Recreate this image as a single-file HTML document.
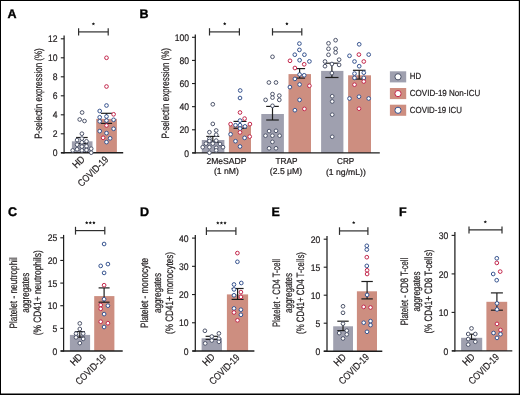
<!DOCTYPE html>
<html><head><meta charset="utf-8"><style>
html,body{margin:0;padding:0;background:#fff;}
svg{display:block;font-family:"Liberation Sans", sans-serif;will-change:transform;text-rendering:geometricPrecision;}
</style></head><body>
<svg width="520" height="395" viewBox="0 0 520 395">
<rect x="0.00" y="0.00" width="520.00" height="395.00" fill="#ffffff"/>
<text x="7.60" y="18.00" font-size="12.5" text-anchor="start" font-weight="bold" fill="#000" stroke="#000" stroke-width="0.35">A</text>
<line x1="64.10" y1="35.60" x2="64.10" y2="153.40" stroke="#1e1e1e" stroke-width="1.25"/>
<line x1="60.80" y1="152.80" x2="64.10" y2="152.80" stroke="#1e1e1e" stroke-width="1.1"/>
<text x="57.60" y="156.40" font-size="9.6" text-anchor="end" font-weight="normal" fill="#231f20" textLength="4.78" lengthAdjust="spacingAndGlyphs" stroke="#231f20" stroke-width="0.22">0</text>
<line x1="60.80" y1="133.80" x2="64.10" y2="133.80" stroke="#1e1e1e" stroke-width="1.1"/>
<text x="57.60" y="137.40" font-size="9.6" text-anchor="end" font-weight="normal" fill="#231f20" textLength="4.78" lengthAdjust="spacingAndGlyphs" stroke="#231f20" stroke-width="0.22">2</text>
<line x1="60.80" y1="114.80" x2="64.10" y2="114.80" stroke="#1e1e1e" stroke-width="1.1"/>
<text x="57.60" y="118.40" font-size="9.6" text-anchor="end" font-weight="normal" fill="#231f20" textLength="4.78" lengthAdjust="spacingAndGlyphs" stroke="#231f20" stroke-width="0.22">4</text>
<line x1="60.80" y1="95.80" x2="64.10" y2="95.80" stroke="#1e1e1e" stroke-width="1.1"/>
<text x="57.60" y="99.40" font-size="9.6" text-anchor="end" font-weight="normal" fill="#231f20" textLength="4.78" lengthAdjust="spacingAndGlyphs" stroke="#231f20" stroke-width="0.22">6</text>
<line x1="60.80" y1="76.80" x2="64.10" y2="76.80" stroke="#1e1e1e" stroke-width="1.1"/>
<text x="57.60" y="80.40" font-size="9.6" text-anchor="end" font-weight="normal" fill="#231f20" textLength="4.78" lengthAdjust="spacingAndGlyphs" stroke="#231f20" stroke-width="0.22">8</text>
<line x1="60.80" y1="57.80" x2="64.10" y2="57.80" stroke="#1e1e1e" stroke-width="1.1"/>
<text x="57.60" y="61.40" font-size="9.6" text-anchor="end" font-weight="normal" fill="#231f20" textLength="9.56" lengthAdjust="spacingAndGlyphs" stroke="#231f20" stroke-width="0.22">10</text>
<line x1="60.80" y1="38.80" x2="64.10" y2="38.80" stroke="#1e1e1e" stroke-width="1.1"/>
<text x="57.60" y="42.40" font-size="9.6" text-anchor="end" font-weight="normal" fill="#231f20" textLength="9.56" lengthAdjust="spacingAndGlyphs" stroke="#231f20" stroke-width="0.22">12</text>
<rect x="71.90" y="141.30" width="20.60" height="11.50" fill="#9fa0af"/>
<rect x="96.20" y="118.90" width="20.70" height="33.90" fill="#cd8e80"/>
<line x1="81.90" y1="137.50" x2="81.90" y2="143.60" stroke="#1e1e1e" stroke-width="1.2"/>
<line x1="76.10" y1="137.50" x2="87.70" y2="137.50" stroke="#1e1e1e" stroke-width="1.2"/>
<line x1="76.10" y1="143.60" x2="87.70" y2="143.60" stroke="#1e1e1e" stroke-width="1.2"/>
<line x1="106.50" y1="113.30" x2="106.50" y2="123.40" stroke="#1e1e1e" stroke-width="1.2"/>
<line x1="100.90" y1="113.30" x2="112.10" y2="113.30" stroke="#1e1e1e" stroke-width="1.2"/>
<line x1="100.90" y1="123.40" x2="112.10" y2="123.40" stroke="#1e1e1e" stroke-width="1.2"/>
<line x1="61.00" y1="152.80" x2="123.20" y2="152.80" stroke="#1e1e1e" stroke-width="1.4"/>
<circle cx="82.10" cy="112.50" r="1.85" fill="#fff" stroke="#4d546a" stroke-width="1.0"/>
<circle cx="79.70" cy="119.50" r="1.85" fill="#fff" stroke="#4d546a" stroke-width="1.0"/>
<circle cx="84.50" cy="121.00" r="1.85" fill="#fff" stroke="#4d546a" stroke-width="1.0"/>
<circle cx="81.90" cy="133.70" r="1.85" fill="#fff" stroke="#4d546a" stroke-width="1.0"/>
<circle cx="77.10" cy="140.10" r="1.85" fill="#fff" stroke="#4d546a" stroke-width="1.0"/>
<circle cx="81.90" cy="138.60" r="1.85" fill="#fff" stroke="#4d546a" stroke-width="1.0"/>
<circle cx="86.50" cy="141.30" r="1.85" fill="#fff" stroke="#4d546a" stroke-width="1.0"/>
<circle cx="81.90" cy="142.30" r="1.85" fill="#fff" stroke="#4d546a" stroke-width="1.0"/>
<circle cx="77.10" cy="144.70" r="1.85" fill="#fff" stroke="#4d546a" stroke-width="1.0"/>
<circle cx="81.90" cy="146.60" r="1.85" fill="#fff" stroke="#4d546a" stroke-width="1.0"/>
<circle cx="86.50" cy="146.20" r="1.85" fill="#fff" stroke="#4d546a" stroke-width="1.0"/>
<circle cx="72.70" cy="150.40" r="1.85" fill="#fff" stroke="#4d546a" stroke-width="1.0"/>
<circle cx="77.10" cy="149.30" r="1.85" fill="#fff" stroke="#4d546a" stroke-width="1.0"/>
<circle cx="81.90" cy="150.40" r="1.85" fill="#fff" stroke="#4d546a" stroke-width="1.0"/>
<circle cx="86.50" cy="150.00" r="1.85" fill="#fff" stroke="#4d546a" stroke-width="1.0"/>
<circle cx="91.20" cy="148.70" r="1.85" fill="#fff" stroke="#4d546a" stroke-width="1.0"/>
<circle cx="91.20" cy="152.70" r="1.85" fill="#fff" stroke="#4d546a" stroke-width="1.0"/>
<circle cx="106.50" cy="57.80" r="1.85" fill="#fff" stroke="#c3264b" stroke-width="1.0"/>
<circle cx="106.50" cy="86.50" r="1.85" fill="#fff" stroke="#c3264b" stroke-width="1.0"/>
<circle cx="106.50" cy="105.50" r="1.85" fill="#fff" stroke="#36538f" stroke-width="1.0"/>
<circle cx="99.70" cy="111.00" r="1.85" fill="#fff" stroke="#36538f" stroke-width="1.0"/>
<circle cx="113.60" cy="114.30" r="1.85" fill="#fff" stroke="#c3264b" stroke-width="1.0"/>
<circle cx="99.70" cy="117.30" r="1.85" fill="#fff" stroke="#36538f" stroke-width="1.0"/>
<circle cx="106.50" cy="116.50" r="1.85" fill="#fff" stroke="#36538f" stroke-width="1.0"/>
<circle cx="99.70" cy="121.30" r="1.85" fill="#fff" stroke="#36538f" stroke-width="1.0"/>
<circle cx="106.50" cy="120.60" r="1.85" fill="#fff" stroke="#36538f" stroke-width="1.0"/>
<circle cx="113.60" cy="119.80" r="1.85" fill="#fff" stroke="#36538f" stroke-width="1.0"/>
<circle cx="106.50" cy="125.50" r="1.85" fill="#fff" stroke="#c3264b" stroke-width="1.0"/>
<circle cx="113.60" cy="128.80" r="1.85" fill="#fff" stroke="#36538f" stroke-width="1.0"/>
<circle cx="99.70" cy="131.10" r="1.85" fill="#fff" stroke="#36538f" stroke-width="1.0"/>
<circle cx="106.50" cy="133.10" r="1.85" fill="#fff" stroke="#36538f" stroke-width="1.0"/>
<circle cx="103.10" cy="137.80" r="1.85" fill="#fff" stroke="#c3264b" stroke-width="1.0"/>
<circle cx="110.10" cy="138.30" r="1.85" fill="#fff" stroke="#36538f" stroke-width="1.0"/>
<circle cx="106.50" cy="142.10" r="1.85" fill="#fff" stroke="#36538f" stroke-width="1.0"/>
<line x1="78.60" y1="31.90" x2="108.20" y2="31.90" stroke="#2e2e2e" stroke-width="1.2"/>
<line x1="78.60" y1="28.30" x2="78.60" y2="35.60" stroke="#2e2e2e" stroke-width="1.2"/>
<line x1="108.20" y1="28.30" x2="108.20" y2="35.60" stroke="#2e2e2e" stroke-width="1.2"/>
<polygon points="93.40,22.15 93.90,23.21 95.06,23.36 94.21,24.16 94.43,25.32 93.40,24.75 92.37,25.32 92.59,24.16 91.74,23.36 92.90,23.21" fill="#1a1a1a"/>
<text transform="translate(42.30,93.50) rotate(-90)" x="0" y="0" font-size="10.7" text-anchor="middle" font-weight="normal" fill="#231f20" textLength="90.50" lengthAdjust="spacingAndGlyphs" stroke="#231f20" stroke-width="0.22">P-selectin expression (%)</text>
<text transform="translate(85.40,160.00) rotate(-45)" x="0" y="0" font-size="10" text-anchor="end" font-weight="normal" fill="#231f20" textLength="12.50" lengthAdjust="spacingAndGlyphs" stroke="#231f20" stroke-width="0.22">HD</text>
<text transform="translate(109.00,160.10) rotate(-45)" x="0" y="0" font-size="10" text-anchor="end" font-weight="normal" fill="#231f20" textLength="38.50" lengthAdjust="spacingAndGlyphs" stroke="#231f20" stroke-width="0.22">COVID-19</text>
<text x="139.60" y="18.20" font-size="12.5" text-anchor="start" font-weight="bold" fill="#000" stroke="#000" stroke-width="0.35">B</text>
<line x1="195.30" y1="34.50" x2="195.30" y2="153.50" stroke="#1e1e1e" stroke-width="1.25"/>
<line x1="192.00" y1="152.90" x2="195.30" y2="152.90" stroke="#1e1e1e" stroke-width="1.1"/>
<text x="189.00" y="156.50" font-size="9.6" text-anchor="end" font-weight="normal" fill="#231f20" textLength="4.78" lengthAdjust="spacingAndGlyphs" stroke="#231f20" stroke-width="0.22">0</text>
<line x1="192.00" y1="129.78" x2="195.30" y2="129.78" stroke="#1e1e1e" stroke-width="1.1"/>
<text x="189.00" y="133.38" font-size="9.6" text-anchor="end" font-weight="normal" fill="#231f20" textLength="9.56" lengthAdjust="spacingAndGlyphs" stroke="#231f20" stroke-width="0.22">20</text>
<line x1="192.00" y1="106.66" x2="195.30" y2="106.66" stroke="#1e1e1e" stroke-width="1.1"/>
<text x="189.00" y="110.26" font-size="9.6" text-anchor="end" font-weight="normal" fill="#231f20" textLength="9.56" lengthAdjust="spacingAndGlyphs" stroke="#231f20" stroke-width="0.22">40</text>
<line x1="192.00" y1="83.54" x2="195.30" y2="83.54" stroke="#1e1e1e" stroke-width="1.1"/>
<text x="189.00" y="87.14" font-size="9.6" text-anchor="end" font-weight="normal" fill="#231f20" textLength="9.56" lengthAdjust="spacingAndGlyphs" stroke="#231f20" stroke-width="0.22">60</text>
<line x1="192.00" y1="60.42" x2="195.30" y2="60.42" stroke="#1e1e1e" stroke-width="1.1"/>
<text x="189.00" y="64.02" font-size="9.6" text-anchor="end" font-weight="normal" fill="#231f20" textLength="9.56" lengthAdjust="spacingAndGlyphs" stroke="#231f20" stroke-width="0.22">80</text>
<line x1="192.00" y1="37.30" x2="195.30" y2="37.30" stroke="#1e1e1e" stroke-width="1.1"/>
<text x="189.00" y="40.90" font-size="9.6" text-anchor="end" font-weight="normal" fill="#231f20" textLength="14.35" lengthAdjust="spacingAndGlyphs" stroke="#231f20" stroke-width="0.22">100</text>
<rect x="201.80" y="140.00" width="22.60" height="12.90" fill="#9fa0af"/>
<rect x="228.90" y="125.40" width="22.10" height="27.50" fill="#cd8e80"/>
<rect x="261.30" y="114.00" width="22.60" height="38.90" fill="#9fa0af"/>
<rect x="288.50" y="74.10" width="22.50" height="78.80" fill="#cd8e80"/>
<rect x="321.10" y="70.90" width="22.30" height="82.00" fill="#9fa0af"/>
<rect x="348.10" y="75.30" width="22.90" height="77.60" fill="#cd8e80"/>
<line x1="212.80" y1="136.40" x2="212.80" y2="142.30" stroke="#1e1e1e" stroke-width="1.2"/>
<line x1="206.30" y1="136.40" x2="219.30" y2="136.40" stroke="#1e1e1e" stroke-width="1.2"/>
<line x1="206.30" y1="142.30" x2="219.30" y2="142.30" stroke="#1e1e1e" stroke-width="1.2"/>
<line x1="240.00" y1="121.40" x2="240.00" y2="128.30" stroke="#1e1e1e" stroke-width="1.2"/>
<line x1="233.50" y1="121.40" x2="246.50" y2="121.40" stroke="#1e1e1e" stroke-width="1.2"/>
<line x1="233.50" y1="128.30" x2="246.50" y2="128.30" stroke="#1e1e1e" stroke-width="1.2"/>
<line x1="272.50" y1="106.40" x2="272.50" y2="120.00" stroke="#1e1e1e" stroke-width="1.2"/>
<line x1="266.20" y1="106.40" x2="278.80" y2="106.40" stroke="#1e1e1e" stroke-width="1.2"/>
<line x1="266.20" y1="120.00" x2="278.80" y2="120.00" stroke="#1e1e1e" stroke-width="1.2"/>
<line x1="299.60" y1="68.60" x2="299.60" y2="78.10" stroke="#1e1e1e" stroke-width="1.2"/>
<line x1="294.10" y1="68.60" x2="305.10" y2="68.60" stroke="#1e1e1e" stroke-width="1.2"/>
<line x1="294.10" y1="78.10" x2="305.10" y2="78.10" stroke="#1e1e1e" stroke-width="1.2"/>
<line x1="331.90" y1="63.20" x2="331.90" y2="77.50" stroke="#1e1e1e" stroke-width="1.2"/>
<line x1="325.30" y1="63.20" x2="338.50" y2="63.20" stroke="#1e1e1e" stroke-width="1.2"/>
<line x1="325.30" y1="77.50" x2="338.50" y2="77.50" stroke="#1e1e1e" stroke-width="1.2"/>
<line x1="359.20" y1="70.30" x2="359.20" y2="79.10" stroke="#1e1e1e" stroke-width="1.2"/>
<line x1="352.90" y1="70.30" x2="365.50" y2="70.30" stroke="#1e1e1e" stroke-width="1.2"/>
<line x1="352.90" y1="79.10" x2="365.50" y2="79.10" stroke="#1e1e1e" stroke-width="1.2"/>
<line x1="192.30" y1="152.90" x2="379.80" y2="152.90" stroke="#1e1e1e" stroke-width="1.4"/>
<circle cx="212.80" cy="104.30" r="1.85" fill="#fff" stroke="#4d546a" stroke-width="1.0"/>
<circle cx="212.80" cy="123.90" r="1.85" fill="#fff" stroke="#4d546a" stroke-width="1.0"/>
<circle cx="209.40" cy="132.20" r="1.85" fill="#fff" stroke="#4d546a" stroke-width="1.0"/>
<circle cx="216.20" cy="130.50" r="1.85" fill="#fff" stroke="#4d546a" stroke-width="1.0"/>
<circle cx="216.20" cy="134.70" r="1.85" fill="#fff" stroke="#4d546a" stroke-width="1.0"/>
<circle cx="209.40" cy="138.70" r="1.85" fill="#fff" stroke="#4d546a" stroke-width="1.0"/>
<circle cx="216.20" cy="140.60" r="1.85" fill="#fff" stroke="#4d546a" stroke-width="1.0"/>
<circle cx="209.40" cy="141.00" r="1.85" fill="#fff" stroke="#4d546a" stroke-width="1.0"/>
<circle cx="206.00" cy="143.60" r="1.85" fill="#fff" stroke="#4d546a" stroke-width="1.0"/>
<circle cx="212.80" cy="143.60" r="1.85" fill="#fff" stroke="#4d546a" stroke-width="1.0"/>
<circle cx="220.00" cy="144.00" r="1.85" fill="#fff" stroke="#4d546a" stroke-width="1.0"/>
<circle cx="202.70" cy="147.20" r="1.85" fill="#fff" stroke="#4d546a" stroke-width="1.0"/>
<circle cx="209.40" cy="147.20" r="1.85" fill="#fff" stroke="#4d546a" stroke-width="1.0"/>
<circle cx="216.20" cy="147.80" r="1.85" fill="#fff" stroke="#4d546a" stroke-width="1.0"/>
<circle cx="223.00" cy="147.20" r="1.85" fill="#fff" stroke="#4d546a" stroke-width="1.0"/>
<circle cx="216.20" cy="150.40" r="1.85" fill="#fff" stroke="#4d546a" stroke-width="1.0"/>
<circle cx="209.40" cy="152.70" r="1.85" fill="#fff" stroke="#4d546a" stroke-width="1.0"/>
<circle cx="272.50" cy="56.80" r="1.85" fill="#fff" stroke="#4d546a" stroke-width="1.0"/>
<circle cx="268.90" cy="82.50" r="1.85" fill="#fff" stroke="#4d546a" stroke-width="1.0"/>
<circle cx="276.00" cy="82.50" r="1.85" fill="#fff" stroke="#4d546a" stroke-width="1.0"/>
<circle cx="272.50" cy="94.10" r="1.85" fill="#fff" stroke="#4d546a" stroke-width="1.0"/>
<circle cx="272.50" cy="97.60" r="1.85" fill="#fff" stroke="#4d546a" stroke-width="1.0"/>
<circle cx="279.30" cy="95.60" r="1.85" fill="#fff" stroke="#4d546a" stroke-width="1.0"/>
<circle cx="279.30" cy="99.90" r="1.85" fill="#fff" stroke="#4d546a" stroke-width="1.0"/>
<circle cx="265.60" cy="99.90" r="1.85" fill="#fff" stroke="#4d546a" stroke-width="1.0"/>
<circle cx="272.50" cy="105.80" r="1.85" fill="#fff" stroke="#4d546a" stroke-width="1.0"/>
<circle cx="269.10" cy="131.10" r="1.85" fill="#fff" stroke="#4d546a" stroke-width="1.0"/>
<circle cx="276.00" cy="130.80" r="1.85" fill="#fff" stroke="#4d546a" stroke-width="1.0"/>
<circle cx="265.50" cy="135.70" r="1.85" fill="#fff" stroke="#4d546a" stroke-width="1.0"/>
<circle cx="272.40" cy="135.70" r="1.85" fill="#fff" stroke="#4d546a" stroke-width="1.0"/>
<circle cx="279.60" cy="135.70" r="1.85" fill="#fff" stroke="#4d546a" stroke-width="1.0"/>
<circle cx="272.40" cy="141.90" r="1.85" fill="#fff" stroke="#4d546a" stroke-width="1.0"/>
<circle cx="269.10" cy="148.30" r="1.85" fill="#fff" stroke="#4d546a" stroke-width="1.0"/>
<circle cx="276.00" cy="148.30" r="1.85" fill="#fff" stroke="#4d546a" stroke-width="1.0"/>
<circle cx="335.60" cy="40.20" r="1.85" fill="#fff" stroke="#4d546a" stroke-width="1.0"/>
<circle cx="328.50" cy="43.30" r="1.85" fill="#fff" stroke="#4d546a" stroke-width="1.0"/>
<circle cx="328.50" cy="48.80" r="1.85" fill="#fff" stroke="#4d546a" stroke-width="1.0"/>
<circle cx="335.60" cy="48.80" r="1.85" fill="#fff" stroke="#4d546a" stroke-width="1.0"/>
<circle cx="335.60" cy="52.50" r="1.85" fill="#fff" stroke="#4d546a" stroke-width="1.0"/>
<circle cx="328.50" cy="54.80" r="1.85" fill="#fff" stroke="#4d546a" stroke-width="1.0"/>
<circle cx="325.00" cy="61.50" r="1.85" fill="#fff" stroke="#4d546a" stroke-width="1.0"/>
<circle cx="339.10" cy="59.70" r="1.85" fill="#fff" stroke="#4d546a" stroke-width="1.0"/>
<circle cx="325.00" cy="66.20" r="1.85" fill="#fff" stroke="#4d546a" stroke-width="1.0"/>
<circle cx="339.10" cy="64.90" r="1.85" fill="#fff" stroke="#4d546a" stroke-width="1.0"/>
<circle cx="331.90" cy="64.00" r="1.85" fill="#fff" stroke="#4d546a" stroke-width="1.0"/>
<circle cx="331.90" cy="73.10" r="1.85" fill="#fff" stroke="#4d546a" stroke-width="1.0"/>
<circle cx="332.20" cy="96.20" r="1.85" fill="#fff" stroke="#4d546a" stroke-width="1.0"/>
<circle cx="332.20" cy="101.50" r="1.85" fill="#fff" stroke="#4d546a" stroke-width="1.0"/>
<circle cx="332.20" cy="114.70" r="1.85" fill="#fff" stroke="#4d546a" stroke-width="1.0"/>
<circle cx="332.20" cy="136.80" r="1.85" fill="#fff" stroke="#4d546a" stroke-width="1.0"/>
<circle cx="240.20" cy="90.50" r="1.85" fill="#fff" stroke="#36538f" stroke-width="1.0"/>
<circle cx="240.00" cy="98.00" r="1.85" fill="#fff" stroke="#36538f" stroke-width="1.0"/>
<circle cx="240.00" cy="112.50" r="1.85" fill="#fff" stroke="#c3264b" stroke-width="1.0"/>
<circle cx="244.60" cy="118.60" r="1.85" fill="#fff" stroke="#c3264b" stroke-width="1.0"/>
<circle cx="240.00" cy="120.60" r="1.85" fill="#fff" stroke="#36538f" stroke-width="1.0"/>
<circle cx="230.60" cy="124.10" r="1.85" fill="#fff" stroke="#c3264b" stroke-width="1.0"/>
<circle cx="249.90" cy="124.10" r="1.85" fill="#fff" stroke="#c3264b" stroke-width="1.0"/>
<circle cx="235.50" cy="125.20" r="1.85" fill="#fff" stroke="#36538f" stroke-width="1.0"/>
<circle cx="240.00" cy="125.20" r="1.85" fill="#fff" stroke="#36538f" stroke-width="1.0"/>
<circle cx="245.00" cy="126.40" r="1.85" fill="#fff" stroke="#36538f" stroke-width="1.0"/>
<circle cx="240.00" cy="128.60" r="1.85" fill="#fff" stroke="#36538f" stroke-width="1.0"/>
<circle cx="240.00" cy="132.40" r="1.85" fill="#fff" stroke="#c3264b" stroke-width="1.0"/>
<circle cx="230.60" cy="134.30" r="1.85" fill="#fff" stroke="#36538f" stroke-width="1.0"/>
<circle cx="249.70" cy="136.60" r="1.85" fill="#fff" stroke="#c3264b" stroke-width="1.0"/>
<circle cx="244.60" cy="137.90" r="1.85" fill="#fff" stroke="#36538f" stroke-width="1.0"/>
<circle cx="235.50" cy="141.20" r="1.85" fill="#fff" stroke="#36538f" stroke-width="1.0"/>
<circle cx="240.00" cy="146.50" r="1.85" fill="#fff" stroke="#36538f" stroke-width="1.0"/>
<circle cx="299.40" cy="43.60" r="1.85" fill="#fff" stroke="#36538f" stroke-width="1.0"/>
<circle cx="299.40" cy="49.90" r="1.85" fill="#fff" stroke="#36538f" stroke-width="1.0"/>
<circle cx="294.80" cy="54.70" r="1.85" fill="#fff" stroke="#36538f" stroke-width="1.0"/>
<circle cx="304.40" cy="54.70" r="1.85" fill="#fff" stroke="#36538f" stroke-width="1.0"/>
<circle cx="290.00" cy="60.80" r="1.85" fill="#fff" stroke="#c3264b" stroke-width="1.0"/>
<circle cx="299.60" cy="60.20" r="1.85" fill="#fff" stroke="#36538f" stroke-width="1.0"/>
<circle cx="309.40" cy="61.40" r="1.85" fill="#fff" stroke="#36538f" stroke-width="1.0"/>
<circle cx="304.20" cy="64.30" r="1.85" fill="#fff" stroke="#c3264b" stroke-width="1.0"/>
<circle cx="294.90" cy="68.00" r="1.85" fill="#fff" stroke="#c3264b" stroke-width="1.0"/>
<circle cx="299.60" cy="74.50" r="1.85" fill="#fff" stroke="#36538f" stroke-width="1.0"/>
<circle cx="304.20" cy="75.30" r="1.85" fill="#fff" stroke="#36538f" stroke-width="1.0"/>
<circle cx="294.90" cy="78.90" r="1.85" fill="#fff" stroke="#36538f" stroke-width="1.0"/>
<circle cx="299.60" cy="84.50" r="1.85" fill="#fff" stroke="#36538f" stroke-width="1.0"/>
<circle cx="289.90" cy="87.10" r="1.85" fill="#fff" stroke="#36538f" stroke-width="1.0"/>
<circle cx="309.40" cy="85.80" r="1.85" fill="#fff" stroke="#c3264b" stroke-width="1.0"/>
<circle cx="299.60" cy="99.90" r="1.85" fill="#fff" stroke="#36538f" stroke-width="1.0"/>
<circle cx="294.90" cy="110.20" r="1.85" fill="#fff" stroke="#36538f" stroke-width="1.0"/>
<circle cx="304.40" cy="108.90" r="1.85" fill="#fff" stroke="#c3264b" stroke-width="1.0"/>
<circle cx="359.20" cy="44.30" r="1.85" fill="#fff" stroke="#36538f" stroke-width="1.0"/>
<circle cx="358.90" cy="54.60" r="1.85" fill="#fff" stroke="#c3264b" stroke-width="1.0"/>
<circle cx="368.70" cy="54.60" r="1.85" fill="#fff" stroke="#36538f" stroke-width="1.0"/>
<circle cx="349.50" cy="55.80" r="1.85" fill="#fff" stroke="#36538f" stroke-width="1.0"/>
<circle cx="354.50" cy="61.50" r="1.85" fill="#fff" stroke="#36538f" stroke-width="1.0"/>
<circle cx="363.80" cy="61.50" r="1.85" fill="#fff" stroke="#c3264b" stroke-width="1.0"/>
<circle cx="359.20" cy="66.20" r="1.85" fill="#fff" stroke="#36538f" stroke-width="1.0"/>
<circle cx="354.50" cy="73.60" r="1.85" fill="#fff" stroke="#36538f" stroke-width="1.0"/>
<circle cx="363.80" cy="72.70" r="1.85" fill="#fff" stroke="#36538f" stroke-width="1.0"/>
<circle cx="354.50" cy="77.90" r="1.85" fill="#fff" stroke="#36538f" stroke-width="1.0"/>
<circle cx="363.80" cy="77.90" r="1.85" fill="#fff" stroke="#36538f" stroke-width="1.0"/>
<circle cx="363.80" cy="81.50" r="1.85" fill="#fff" stroke="#c3264b" stroke-width="1.0"/>
<circle cx="354.50" cy="84.70" r="1.85" fill="#fff" stroke="#c3264b" stroke-width="1.0"/>
<circle cx="359.00" cy="96.70" r="1.85" fill="#fff" stroke="#36538f" stroke-width="1.0"/>
<circle cx="349.50" cy="98.50" r="1.85" fill="#fff" stroke="#36538f" stroke-width="1.0"/>
<circle cx="368.70" cy="98.50" r="1.85" fill="#fff" stroke="#36538f" stroke-width="1.0"/>
<circle cx="359.00" cy="108.70" r="1.85" fill="#fff" stroke="#c3264b" stroke-width="1.0"/>
<line x1="209.50" y1="31.90" x2="239.40" y2="31.90" stroke="#2e2e2e" stroke-width="1.2"/>
<line x1="209.50" y1="28.20" x2="209.50" y2="35.50" stroke="#2e2e2e" stroke-width="1.2"/>
<line x1="239.40" y1="28.20" x2="239.40" y2="35.50" stroke="#2e2e2e" stroke-width="1.2"/>
<line x1="272.50" y1="31.90" x2="301.80" y2="31.90" stroke="#2e2e2e" stroke-width="1.2"/>
<line x1="272.50" y1="28.20" x2="272.50" y2="35.50" stroke="#2e2e2e" stroke-width="1.2"/>
<line x1="301.80" y1="28.20" x2="301.80" y2="35.50" stroke="#2e2e2e" stroke-width="1.2"/>
<polygon points="224.70,22.05 225.20,23.11 226.36,23.26 225.51,24.06 225.73,25.22 224.70,24.65 223.67,25.22 223.89,24.06 223.04,23.26 224.20,23.11" fill="#1a1a1a"/>
<polygon points="286.90,22.05 287.40,23.11 288.56,23.26 287.71,24.06 287.93,25.22 286.90,24.65 285.87,25.22 286.09,24.06 285.24,23.26 286.40,23.11" fill="#1a1a1a"/>
<text transform="translate(169.00,93.30) rotate(-90)" x="0" y="0" font-size="10.7" text-anchor="middle" font-weight="normal" fill="#231f20" textLength="90.50" lengthAdjust="spacingAndGlyphs" stroke="#231f20" stroke-width="0.22">P-selectin expression (%)</text>
<text x="226.40" y="164.00" font-size="8.6" text-anchor="middle" font-weight="normal" fill="#231f20" textLength="40.00" lengthAdjust="spacingAndGlyphs" stroke="#231f20" stroke-width="0.22">2MeSADP</text>
<text x="226.40" y="174.20" font-size="8.6" text-anchor="middle" font-weight="normal" fill="#231f20" textLength="25.00" lengthAdjust="spacingAndGlyphs" stroke="#231f20" stroke-width="0.22">(1 nM)</text>
<text x="286.50" y="164.00" font-size="8.6" text-anchor="middle" font-weight="normal" fill="#231f20" textLength="22.00" lengthAdjust="spacingAndGlyphs" stroke="#231f20" stroke-width="0.22">TRAP</text>
<text x="286.00" y="174.30" font-size="8.6" text-anchor="middle" font-weight="normal" fill="#231f20" textLength="32.30" lengthAdjust="spacingAndGlyphs" stroke="#231f20" stroke-width="0.22">(2.5 μM)</text>
<text x="345.70" y="164.00" font-size="8.6" text-anchor="middle" font-weight="normal" fill="#231f20" textLength="17.20" lengthAdjust="spacingAndGlyphs" stroke="#231f20" stroke-width="0.22">CRP</text>
<text x="345.90" y="174.50" font-size="8.6" text-anchor="middle" font-weight="normal" fill="#231f20" textLength="39.80" lengthAdjust="spacingAndGlyphs" stroke="#231f20" stroke-width="0.22">(1 ng/mL))</text>
<rect x="389.90" y="71.30" width="16.30" height="11.10" fill="#9fa0af"/>
<circle cx="398" cy="76.8" r="3.1" fill="#fff" stroke="#4d546a" stroke-width="1.0"/>
<text x="409.80" y="79.40" font-size="8.8" text-anchor="start" font-weight="normal" fill="#231f20" textLength="11.30" lengthAdjust="spacingAndGlyphs" stroke="#231f20" stroke-width="0.22">HD</text>
<rect x="389.90" y="88.00" width="16.30" height="11.10" fill="#cd8e80"/>
<circle cx="398" cy="93.6" r="3.1" fill="#fff" stroke="#c3264b" stroke-width="1.0"/>
<text x="409.80" y="96.20" font-size="8.8" text-anchor="start" font-weight="normal" fill="#231f20" textLength="70.50" lengthAdjust="spacingAndGlyphs" stroke="#231f20" stroke-width="0.22">COVID-19 Non-ICU</text>
<rect x="389.90" y="104.70" width="16.30" height="11.10" fill="#cd8e80"/>
<circle cx="398" cy="110.3" r="3.1" fill="#fff" stroke="#36538f" stroke-width="1.0"/>
<text x="409.80" y="112.90" font-size="8.8" text-anchor="start" font-weight="normal" fill="#231f20" textLength="52.20" lengthAdjust="spacingAndGlyphs" stroke="#231f20" stroke-width="0.22">COVID-19 ICU</text>
<text x="7.90" y="216.40" font-size="12.5" text-anchor="start" font-weight="bold" fill="#000" stroke="#000" stroke-width="0.35">C</text>
<line x1="63.60" y1="234.90" x2="63.60" y2="351.60" stroke="#1e1e1e" stroke-width="1.25"/>
<line x1="60.30" y1="351.00" x2="63.60" y2="351.00" stroke="#1e1e1e" stroke-width="1.1"/>
<text x="57.40" y="354.60" font-size="9.6" text-anchor="end" font-weight="normal" fill="#231f20" textLength="4.78" lengthAdjust="spacingAndGlyphs" stroke="#231f20" stroke-width="0.22">0</text>
<line x1="60.30" y1="328.36" x2="63.60" y2="328.36" stroke="#1e1e1e" stroke-width="1.1"/>
<text x="57.40" y="331.96" font-size="9.6" text-anchor="end" font-weight="normal" fill="#231f20" textLength="4.78" lengthAdjust="spacingAndGlyphs" stroke="#231f20" stroke-width="0.22">5</text>
<line x1="60.30" y1="305.72" x2="63.60" y2="305.72" stroke="#1e1e1e" stroke-width="1.1"/>
<text x="57.40" y="309.32" font-size="9.6" text-anchor="end" font-weight="normal" fill="#231f20" textLength="9.56" lengthAdjust="spacingAndGlyphs" stroke="#231f20" stroke-width="0.22">10</text>
<line x1="60.30" y1="283.08" x2="63.60" y2="283.08" stroke="#1e1e1e" stroke-width="1.1"/>
<text x="57.40" y="286.68" font-size="9.6" text-anchor="end" font-weight="normal" fill="#231f20" textLength="9.56" lengthAdjust="spacingAndGlyphs" stroke="#231f20" stroke-width="0.22">15</text>
<line x1="60.30" y1="260.44" x2="63.60" y2="260.44" stroke="#1e1e1e" stroke-width="1.1"/>
<text x="57.40" y="264.04" font-size="9.6" text-anchor="end" font-weight="normal" fill="#231f20" textLength="9.56" lengthAdjust="spacingAndGlyphs" stroke="#231f20" stroke-width="0.22">20</text>
<line x1="60.30" y1="237.80" x2="63.60" y2="237.80" stroke="#1e1e1e" stroke-width="1.1"/>
<text x="57.40" y="241.40" font-size="9.6" text-anchor="end" font-weight="normal" fill="#231f20" textLength="9.56" lengthAdjust="spacingAndGlyphs" stroke="#231f20" stroke-width="0.22">25</text>
<rect x="69.90" y="334.90" width="20.20" height="16.10" fill="#9fa0af"/>
<rect x="94.20" y="296.10" width="20.20" height="54.90" fill="#cd8e80"/>
<line x1="79.80" y1="331.60" x2="79.80" y2="337.20" stroke="#1e1e1e" stroke-width="1.2"/>
<line x1="74.80" y1="331.60" x2="84.80" y2="331.60" stroke="#1e1e1e" stroke-width="1.2"/>
<line x1="74.80" y1="337.20" x2="84.80" y2="337.20" stroke="#1e1e1e" stroke-width="1.2"/>
<line x1="104.10" y1="287.90" x2="104.10" y2="302.20" stroke="#1e1e1e" stroke-width="1.2"/>
<line x1="98.60" y1="287.90" x2="109.60" y2="287.90" stroke="#1e1e1e" stroke-width="1.2"/>
<line x1="98.60" y1="302.20" x2="109.60" y2="302.20" stroke="#1e1e1e" stroke-width="1.2"/>
<line x1="60.80" y1="351.00" x2="122.70" y2="351.00" stroke="#1e1e1e" stroke-width="1.4"/>
<circle cx="79.80" cy="323.40" r="1.85" fill="#fff" stroke="#4d546a" stroke-width="1.0"/>
<circle cx="79.80" cy="329.00" r="1.85" fill="#fff" stroke="#4d546a" stroke-width="1.0"/>
<circle cx="76.00" cy="333.60" r="1.85" fill="#fff" stroke="#4d546a" stroke-width="1.0"/>
<circle cx="83.20" cy="333.60" r="1.85" fill="#fff" stroke="#4d546a" stroke-width="1.0"/>
<circle cx="76.00" cy="337.40" r="1.85" fill="#fff" stroke="#4d546a" stroke-width="1.0"/>
<circle cx="83.20" cy="338.90" r="1.85" fill="#fff" stroke="#4d546a" stroke-width="1.0"/>
<circle cx="79.80" cy="343.10" r="1.85" fill="#fff" stroke="#4d546a" stroke-width="1.0"/>
<circle cx="104.10" cy="244.00" r="1.85" fill="#fff" stroke="#36538f" stroke-width="1.0"/>
<circle cx="100.70" cy="265.90" r="1.85" fill="#fff" stroke="#36538f" stroke-width="1.0"/>
<circle cx="107.90" cy="264.10" r="1.85" fill="#fff" stroke="#36538f" stroke-width="1.0"/>
<circle cx="104.10" cy="272.90" r="1.85" fill="#fff" stroke="#36538f" stroke-width="1.0"/>
<circle cx="104.10" cy="285.20" r="1.85" fill="#fff" stroke="#c3264b" stroke-width="1.0"/>
<circle cx="104.10" cy="299.20" r="1.85" fill="#fff" stroke="#36538f" stroke-width="1.0"/>
<circle cx="100.70" cy="305.00" r="1.85" fill="#fff" stroke="#c3264b" stroke-width="1.0"/>
<circle cx="107.90" cy="305.70" r="1.85" fill="#fff" stroke="#36538f" stroke-width="1.0"/>
<circle cx="100.70" cy="308.80" r="1.85" fill="#fff" stroke="#c3264b" stroke-width="1.0"/>
<circle cx="104.10" cy="314.10" r="1.85" fill="#fff" stroke="#36538f" stroke-width="1.0"/>
<circle cx="100.70" cy="321.70" r="1.85" fill="#fff" stroke="#c3264b" stroke-width="1.0"/>
<circle cx="107.90" cy="323.20" r="1.85" fill="#fff" stroke="#c3264b" stroke-width="1.0"/>
<circle cx="104.10" cy="327.00" r="1.85" fill="#fff" stroke="#36538f" stroke-width="1.0"/>
<line x1="75.50" y1="230.60" x2="104.80" y2="230.60" stroke="#2e2e2e" stroke-width="1.2"/>
<line x1="75.50" y1="226.80" x2="75.50" y2="234.60" stroke="#2e2e2e" stroke-width="1.2"/>
<line x1="104.80" y1="226.80" x2="104.80" y2="234.60" stroke="#2e2e2e" stroke-width="1.2"/>
<polygon points="86.70,221.05 87.20,222.11 88.36,222.26 87.51,223.06 87.73,224.22 86.70,223.65 85.67,224.22 85.89,223.06 85.04,222.26 86.20,222.11" fill="#1a1a1a"/>
<polygon points="90.30,221.05 90.80,222.11 91.96,222.26 91.11,223.06 91.33,224.22 90.30,223.65 89.27,224.22 89.49,223.06 88.64,222.26 89.80,222.11" fill="#1a1a1a"/>
<polygon points="93.90,221.05 94.40,222.11 95.56,222.26 94.71,223.06 94.93,224.22 93.90,223.65 92.87,224.22 93.09,223.06 92.24,222.26 93.40,222.11" fill="#1a1a1a"/>
<text transform="translate(16.60,292.80) rotate(-90)" x="0" y="0" font-size="10.7" text-anchor="middle" font-weight="normal" fill="#231f20" textLength="71.50" lengthAdjust="spacingAndGlyphs" stroke="#231f20" stroke-width="0.22">Platelet - neutrophil</text>
<text transform="translate(28.80,292.80) rotate(-90)" x="0" y="0" font-size="10.7" text-anchor="middle" font-weight="normal" fill="#231f20" textLength="40.00" lengthAdjust="spacingAndGlyphs" stroke="#231f20" stroke-width="0.22">aggregates</text>
<text transform="translate(41.00,292.80) rotate(-90)" x="0" y="0" font-size="10.7" text-anchor="middle" font-weight="normal" fill="#231f20" textLength="85.00" lengthAdjust="spacingAndGlyphs" stroke="#231f20" stroke-width="0.22">(% CD41+ neutrophils)</text>
<text transform="translate(83.00,357.50) rotate(-45)" x="0" y="0" font-size="10" text-anchor="end" font-weight="normal" fill="#231f20" textLength="12.50" lengthAdjust="spacingAndGlyphs" stroke="#231f20" stroke-width="0.22">HD</text>
<text transform="translate(106.80,358.20) rotate(-45)" x="0" y="0" font-size="10" text-anchor="end" font-weight="normal" fill="#231f20" textLength="38.50" lengthAdjust="spacingAndGlyphs" stroke="#231f20" stroke-width="0.22">COVID-19</text>
<text x="139.90" y="216.40" font-size="12.5" text-anchor="start" font-weight="bold" fill="#000" stroke="#000" stroke-width="0.35">D</text>
<line x1="195.30" y1="235.00" x2="195.30" y2="351.60" stroke="#1e1e1e" stroke-width="1.25"/>
<line x1="192.00" y1="351.00" x2="195.30" y2="351.00" stroke="#1e1e1e" stroke-width="1.1"/>
<text x="188.60" y="354.60" font-size="9.6" text-anchor="end" font-weight="normal" fill="#231f20" textLength="4.78" lengthAdjust="spacingAndGlyphs" stroke="#231f20" stroke-width="0.22">0</text>
<line x1="192.00" y1="322.77" x2="195.30" y2="322.77" stroke="#1e1e1e" stroke-width="1.1"/>
<text x="188.60" y="326.38" font-size="9.6" text-anchor="end" font-weight="normal" fill="#231f20" textLength="9.56" lengthAdjust="spacingAndGlyphs" stroke="#231f20" stroke-width="0.22">10</text>
<line x1="192.00" y1="294.55" x2="195.30" y2="294.55" stroke="#1e1e1e" stroke-width="1.1"/>
<text x="188.60" y="298.15" font-size="9.6" text-anchor="end" font-weight="normal" fill="#231f20" textLength="9.56" lengthAdjust="spacingAndGlyphs" stroke="#231f20" stroke-width="0.22">20</text>
<line x1="192.00" y1="266.32" x2="195.30" y2="266.32" stroke="#1e1e1e" stroke-width="1.1"/>
<text x="188.60" y="269.93" font-size="9.6" text-anchor="end" font-weight="normal" fill="#231f20" textLength="9.56" lengthAdjust="spacingAndGlyphs" stroke="#231f20" stroke-width="0.22">30</text>
<line x1="192.00" y1="238.10" x2="195.30" y2="238.10" stroke="#1e1e1e" stroke-width="1.1"/>
<text x="188.60" y="241.70" font-size="9.6" text-anchor="end" font-weight="normal" fill="#231f20" textLength="9.56" lengthAdjust="spacingAndGlyphs" stroke="#231f20" stroke-width="0.22">40</text>
<rect x="201.60" y="338.30" width="20.40" height="12.70" fill="#9fa0af"/>
<rect x="226.90" y="294.40" width="21.20" height="56.60" fill="#cd8e80"/>
<line x1="211.80" y1="336.30" x2="211.80" y2="339.40" stroke="#1e1e1e" stroke-width="1.2"/>
<line x1="205.60" y1="336.30" x2="218.00" y2="336.30" stroke="#1e1e1e" stroke-width="1.2"/>
<line x1="205.60" y1="339.40" x2="218.00" y2="339.40" stroke="#1e1e1e" stroke-width="1.2"/>
<line x1="237.60" y1="288.50" x2="237.60" y2="299.40" stroke="#1e1e1e" stroke-width="1.2"/>
<line x1="231.60" y1="288.50" x2="243.60" y2="288.50" stroke="#1e1e1e" stroke-width="1.2"/>
<line x1="231.60" y1="299.40" x2="243.60" y2="299.40" stroke="#1e1e1e" stroke-width="1.2"/>
<line x1="192.50" y1="351.00" x2="254.40" y2="351.00" stroke="#1e1e1e" stroke-width="1.4"/>
<circle cx="204.90" cy="330.80" r="1.85" fill="#fff" stroke="#4d546a" stroke-width="1.0"/>
<circle cx="218.90" cy="333.40" r="1.85" fill="#fff" stroke="#4d546a" stroke-width="1.0"/>
<circle cx="211.80" cy="336.50" r="1.85" fill="#fff" stroke="#4d546a" stroke-width="1.0"/>
<circle cx="211.80" cy="340.50" r="1.85" fill="#fff" stroke="#4d546a" stroke-width="1.0"/>
<circle cx="218.90" cy="338.70" r="1.85" fill="#fff" stroke="#4d546a" stroke-width="1.0"/>
<circle cx="218.90" cy="341.80" r="1.85" fill="#fff" stroke="#4d546a" stroke-width="1.0"/>
<circle cx="205.20" cy="343.40" r="1.85" fill="#fff" stroke="#4d546a" stroke-width="1.0"/>
<circle cx="237.40" cy="253.10" r="1.85" fill="#fff" stroke="#c3264b" stroke-width="1.0"/>
<circle cx="237.40" cy="261.80" r="1.85" fill="#fff" stroke="#36538f" stroke-width="1.0"/>
<circle cx="234.00" cy="284.50" r="1.85" fill="#fff" stroke="#36538f" stroke-width="1.0"/>
<circle cx="241.30" cy="283.00" r="1.85" fill="#fff" stroke="#36538f" stroke-width="1.0"/>
<circle cx="234.00" cy="289.40" r="1.85" fill="#fff" stroke="#36538f" stroke-width="1.0"/>
<circle cx="234.00" cy="295.30" r="1.85" fill="#fff" stroke="#36538f" stroke-width="1.0"/>
<circle cx="240.90" cy="292.10" r="1.85" fill="#fff" stroke="#c3264b" stroke-width="1.0"/>
<circle cx="240.90" cy="296.90" r="1.85" fill="#fff" stroke="#c3264b" stroke-width="1.0"/>
<circle cx="234.00" cy="308.40" r="1.85" fill="#fff" stroke="#36538f" stroke-width="1.0"/>
<circle cx="234.00" cy="312.50" r="1.85" fill="#fff" stroke="#c3264b" stroke-width="1.0"/>
<circle cx="240.90" cy="309.70" r="1.85" fill="#fff" stroke="#36538f" stroke-width="1.0"/>
<circle cx="240.90" cy="314.80" r="1.85" fill="#fff" stroke="#36538f" stroke-width="1.0"/>
<circle cx="237.50" cy="320.30" r="1.85" fill="#fff" stroke="#c3264b" stroke-width="1.0"/>
<line x1="206.40" y1="230.90" x2="235.90" y2="230.90" stroke="#2e2e2e" stroke-width="1.2"/>
<line x1="206.40" y1="227.30" x2="206.40" y2="234.90" stroke="#2e2e2e" stroke-width="1.2"/>
<line x1="235.90" y1="227.30" x2="235.90" y2="234.90" stroke="#2e2e2e" stroke-width="1.2"/>
<polygon points="217.80,221.25 218.30,222.31 219.46,222.46 218.61,223.26 218.83,224.42 217.80,223.85 216.77,224.42 216.99,223.26 216.14,222.46 217.30,222.31" fill="#1a1a1a"/>
<polygon points="221.40,221.25 221.90,222.31 223.06,222.46 222.21,223.26 222.43,224.42 221.40,223.85 220.37,224.42 220.59,223.26 219.74,222.46 220.90,222.31" fill="#1a1a1a"/>
<polygon points="225.00,221.25 225.50,222.31 226.66,222.46 225.81,223.26 226.03,224.42 225.00,223.85 223.97,224.42 224.19,223.26 223.34,222.46 224.50,222.31" fill="#1a1a1a"/>
<text transform="translate(148.40,293.00) rotate(-90)" x="0" y="0" font-size="10.7" text-anchor="middle" font-weight="normal" fill="#231f20" textLength="70.00" lengthAdjust="spacingAndGlyphs" stroke="#231f20" stroke-width="0.22">Platelet - monocyte</text>
<text transform="translate(160.60,293.00) rotate(-90)" x="0" y="0" font-size="10.7" text-anchor="middle" font-weight="normal" fill="#231f20" textLength="40.00" lengthAdjust="spacingAndGlyphs" stroke="#231f20" stroke-width="0.22">aggregates</text>
<text transform="translate(172.80,293.00) rotate(-90)" x="0" y="0" font-size="10.7" text-anchor="middle" font-weight="normal" fill="#231f20" textLength="82.00" lengthAdjust="spacingAndGlyphs" stroke="#231f20" stroke-width="0.22">(% CD41+ monocytes)</text>
<text transform="translate(215.30,357.60) rotate(-45)" x="0" y="0" font-size="10" text-anchor="end" font-weight="normal" fill="#231f20" textLength="12.50" lengthAdjust="spacingAndGlyphs" stroke="#231f20" stroke-width="0.22">HD</text>
<text transform="translate(240.40,358.10) rotate(-45)" x="0" y="0" font-size="10" text-anchor="end" font-weight="normal" fill="#231f20" textLength="38.50" lengthAdjust="spacingAndGlyphs" stroke="#231f20" stroke-width="0.22">COVID-19</text>
<text x="271.50" y="216.40" font-size="12.5" text-anchor="start" font-weight="bold" fill="#000" stroke="#000" stroke-width="0.35">E</text>
<line x1="327.00" y1="236.00" x2="327.00" y2="351.80" stroke="#1e1e1e" stroke-width="1.25"/>
<line x1="323.70" y1="351.20" x2="327.00" y2="351.20" stroke="#1e1e1e" stroke-width="1.1"/>
<text x="320.40" y="354.80" font-size="9.6" text-anchor="end" font-weight="normal" fill="#231f20" textLength="4.78" lengthAdjust="spacingAndGlyphs" stroke="#231f20" stroke-width="0.22">0</text>
<line x1="323.70" y1="323.20" x2="327.00" y2="323.20" stroke="#1e1e1e" stroke-width="1.1"/>
<text x="320.40" y="326.80" font-size="9.6" text-anchor="end" font-weight="normal" fill="#231f20" textLength="4.78" lengthAdjust="spacingAndGlyphs" stroke="#231f20" stroke-width="0.22">5</text>
<line x1="323.70" y1="295.20" x2="327.00" y2="295.20" stroke="#1e1e1e" stroke-width="1.1"/>
<text x="320.40" y="298.80" font-size="9.6" text-anchor="end" font-weight="normal" fill="#231f20" textLength="9.56" lengthAdjust="spacingAndGlyphs" stroke="#231f20" stroke-width="0.22">10</text>
<line x1="323.70" y1="267.20" x2="327.00" y2="267.20" stroke="#1e1e1e" stroke-width="1.1"/>
<text x="320.40" y="270.80" font-size="9.6" text-anchor="end" font-weight="normal" fill="#231f20" textLength="9.56" lengthAdjust="spacingAndGlyphs" stroke="#231f20" stroke-width="0.22">15</text>
<line x1="323.70" y1="239.20" x2="327.00" y2="239.20" stroke="#1e1e1e" stroke-width="1.1"/>
<text x="320.40" y="242.80" font-size="9.6" text-anchor="end" font-weight="normal" fill="#231f20" textLength="9.56" lengthAdjust="spacingAndGlyphs" stroke="#231f20" stroke-width="0.22">20</text>
<rect x="333.20" y="326.30" width="19.80" height="24.90" fill="#9fa0af"/>
<rect x="356.90" y="291.30" width="20.10" height="59.90" fill="#cd8e80"/>
<line x1="343.00" y1="321.20" x2="343.00" y2="330.60" stroke="#1e1e1e" stroke-width="1.2"/>
<line x1="337.30" y1="321.20" x2="348.70" y2="321.20" stroke="#1e1e1e" stroke-width="1.2"/>
<line x1="337.30" y1="330.60" x2="348.70" y2="330.60" stroke="#1e1e1e" stroke-width="1.2"/>
<line x1="367.10" y1="281.50" x2="367.10" y2="298.90" stroke="#1e1e1e" stroke-width="1.2"/>
<line x1="361.40" y1="281.50" x2="372.80" y2="281.50" stroke="#1e1e1e" stroke-width="1.2"/>
<line x1="361.40" y1="298.90" x2="372.80" y2="298.90" stroke="#1e1e1e" stroke-width="1.2"/>
<line x1="323.80" y1="351.20" x2="382.30" y2="351.20" stroke="#1e1e1e" stroke-width="1.4"/>
<circle cx="343.00" cy="306.30" r="1.85" fill="#fff" stroke="#4d546a" stroke-width="1.0"/>
<circle cx="343.00" cy="312.80" r="1.85" fill="#fff" stroke="#4d546a" stroke-width="1.0"/>
<circle cx="343.00" cy="323.70" r="1.85" fill="#fff" stroke="#4d546a" stroke-width="1.0"/>
<circle cx="339.20" cy="333.10" r="1.85" fill="#fff" stroke="#4d546a" stroke-width="1.0"/>
<circle cx="346.80" cy="330.60" r="1.85" fill="#fff" stroke="#4d546a" stroke-width="1.0"/>
<circle cx="346.80" cy="334.40" r="1.85" fill="#fff" stroke="#4d546a" stroke-width="1.0"/>
<circle cx="343.00" cy="338.50" r="1.85" fill="#fff" stroke="#4d546a" stroke-width="1.0"/>
<circle cx="366.80" cy="245.80" r="1.85" fill="#fff" stroke="#36538f" stroke-width="1.0"/>
<circle cx="366.80" cy="249.60" r="1.85" fill="#fff" stroke="#36538f" stroke-width="1.0"/>
<circle cx="366.80" cy="257.20" r="1.85" fill="#fff" stroke="#c3264b" stroke-width="1.0"/>
<circle cx="366.80" cy="265.90" r="1.85" fill="#fff" stroke="#36538f" stroke-width="1.0"/>
<circle cx="367.10" cy="270.30" r="1.85" fill="#fff" stroke="#c3264b" stroke-width="1.0"/>
<circle cx="367.10" cy="274.00" r="1.85" fill="#fff" stroke="#c3264b" stroke-width="1.0"/>
<circle cx="367.10" cy="294.90" r="1.85" fill="#fff" stroke="#36538f" stroke-width="1.0"/>
<circle cx="363.70" cy="306.90" r="1.85" fill="#fff" stroke="#c3264b" stroke-width="1.0"/>
<circle cx="370.50" cy="307.50" r="1.85" fill="#fff" stroke="#c3264b" stroke-width="1.0"/>
<circle cx="363.70" cy="322.70" r="1.85" fill="#fff" stroke="#36538f" stroke-width="1.0"/>
<circle cx="370.50" cy="321.10" r="1.85" fill="#fff" stroke="#36538f" stroke-width="1.0"/>
<circle cx="370.50" cy="325.10" r="1.85" fill="#fff" stroke="#36538f" stroke-width="1.0"/>
<circle cx="367.00" cy="331.80" r="1.85" fill="#fff" stroke="#36538f" stroke-width="1.0"/>
<line x1="339.50" y1="230.90" x2="367.90" y2="230.90" stroke="#2e2e2e" stroke-width="1.2"/>
<line x1="339.50" y1="227.30" x2="339.50" y2="234.90" stroke="#2e2e2e" stroke-width="1.2"/>
<line x1="367.90" y1="227.30" x2="367.90" y2="234.90" stroke="#2e2e2e" stroke-width="1.2"/>
<polygon points="353.70,220.95 354.20,222.01 355.36,222.16 354.51,222.96 354.73,224.12 353.70,223.55 352.67,224.12 352.89,222.96 352.04,222.16 353.20,222.01" fill="#1a1a1a"/>
<text transform="translate(279.80,293.00) rotate(-90)" x="0" y="0" font-size="10.7" text-anchor="middle" font-weight="normal" fill="#231f20" textLength="68.00" lengthAdjust="spacingAndGlyphs" stroke="#231f20" stroke-width="0.22">Platelet - CD4 T-cell</text>
<text transform="translate(292.00,293.00) rotate(-90)" x="0" y="0" font-size="10.7" text-anchor="middle" font-weight="normal" fill="#231f20" textLength="40.00" lengthAdjust="spacingAndGlyphs" stroke="#231f20" stroke-width="0.22">aggregates</text>
<text transform="translate(304.20,293.00) rotate(-90)" x="0" y="0" font-size="10.7" text-anchor="middle" font-weight="normal" fill="#231f20" textLength="82.00" lengthAdjust="spacingAndGlyphs" stroke="#231f20" stroke-width="0.22">(% CD41+ CD4 T-cells)</text>
<text transform="translate(346.70,357.80) rotate(-45)" x="0" y="0" font-size="10" text-anchor="end" font-weight="normal" fill="#231f20" textLength="12.50" lengthAdjust="spacingAndGlyphs" stroke="#231f20" stroke-width="0.22">HD</text>
<text transform="translate(369.90,357.80) rotate(-45)" x="0" y="0" font-size="10" text-anchor="end" font-weight="normal" fill="#231f20" textLength="38.50" lengthAdjust="spacingAndGlyphs" stroke="#231f20" stroke-width="0.22">COVID-19</text>
<text x="399.00" y="216.40" font-size="12.5" text-anchor="start" font-weight="bold" fill="#000" stroke="#000" stroke-width="0.35">F</text>
<line x1="454.90" y1="232.00" x2="454.90" y2="351.50" stroke="#1e1e1e" stroke-width="1.25"/>
<line x1="451.60" y1="350.90" x2="454.90" y2="350.90" stroke="#1e1e1e" stroke-width="1.1"/>
<text x="448.30" y="354.50" font-size="9.6" text-anchor="end" font-weight="normal" fill="#231f20" textLength="4.78" lengthAdjust="spacingAndGlyphs" stroke="#231f20" stroke-width="0.22">0</text>
<line x1="451.60" y1="312.40" x2="454.90" y2="312.40" stroke="#1e1e1e" stroke-width="1.1"/>
<text x="448.30" y="316.00" font-size="9.6" text-anchor="end" font-weight="normal" fill="#231f20" textLength="9.56" lengthAdjust="spacingAndGlyphs" stroke="#231f20" stroke-width="0.22">10</text>
<line x1="451.60" y1="273.90" x2="454.90" y2="273.90" stroke="#1e1e1e" stroke-width="1.1"/>
<text x="448.30" y="277.50" font-size="9.6" text-anchor="end" font-weight="normal" fill="#231f20" textLength="9.56" lengthAdjust="spacingAndGlyphs" stroke="#231f20" stroke-width="0.22">20</text>
<line x1="451.60" y1="235.40" x2="454.90" y2="235.40" stroke="#1e1e1e" stroke-width="1.1"/>
<text x="448.30" y="239.00" font-size="9.6" text-anchor="end" font-weight="normal" fill="#231f20" textLength="9.56" lengthAdjust="spacingAndGlyphs" stroke="#231f20" stroke-width="0.22">30</text>
<rect x="461.10" y="337.80" width="21.10" height="13.10" fill="#9fa0af"/>
<rect x="486.40" y="301.80" width="20.80" height="49.10" fill="#cd8e80"/>
<line x1="471.50" y1="334.20" x2="471.50" y2="339.30" stroke="#1e1e1e" stroke-width="1.2"/>
<line x1="466.70" y1="334.20" x2="476.30" y2="334.20" stroke="#1e1e1e" stroke-width="1.2"/>
<line x1="466.70" y1="339.30" x2="476.30" y2="339.30" stroke="#1e1e1e" stroke-width="1.2"/>
<line x1="496.90" y1="292.90" x2="496.90" y2="310.20" stroke="#1e1e1e" stroke-width="1.2"/>
<line x1="490.90" y1="292.90" x2="502.90" y2="292.90" stroke="#1e1e1e" stroke-width="1.2"/>
<line x1="490.90" y1="310.20" x2="502.90" y2="310.20" stroke="#1e1e1e" stroke-width="1.2"/>
<line x1="452.00" y1="350.90" x2="512.30" y2="350.90" stroke="#1e1e1e" stroke-width="1.4"/>
<circle cx="471.50" cy="328.40" r="1.85" fill="#fff" stroke="#4d546a" stroke-width="1.0"/>
<circle cx="468.20" cy="334.00" r="1.85" fill="#fff" stroke="#4d546a" stroke-width="1.0"/>
<circle cx="475.30" cy="334.00" r="1.85" fill="#fff" stroke="#4d546a" stroke-width="1.0"/>
<circle cx="468.20" cy="339.10" r="1.85" fill="#fff" stroke="#4d546a" stroke-width="1.0"/>
<circle cx="475.30" cy="341.80" r="1.85" fill="#fff" stroke="#4d546a" stroke-width="1.0"/>
<circle cx="468.20" cy="344.60" r="1.85" fill="#fff" stroke="#4d546a" stroke-width="1.0"/>
<circle cx="496.80" cy="258.30" r="1.85" fill="#fff" stroke="#36538f" stroke-width="1.0"/>
<circle cx="496.80" cy="262.90" r="1.85" fill="#fff" stroke="#c3264b" stroke-width="1.0"/>
<circle cx="500.20" cy="271.60" r="1.85" fill="#fff" stroke="#c3264b" stroke-width="1.0"/>
<circle cx="493.20" cy="274.00" r="1.85" fill="#fff" stroke="#36538f" stroke-width="1.0"/>
<circle cx="496.70" cy="280.20" r="1.85" fill="#fff" stroke="#36538f" stroke-width="1.0"/>
<circle cx="497.00" cy="303.40" r="1.85" fill="#fff" stroke="#36538f" stroke-width="1.0"/>
<circle cx="497.00" cy="309.40" r="1.85" fill="#fff" stroke="#36538f" stroke-width="1.0"/>
<circle cx="497.00" cy="323.90" r="1.85" fill="#fff" stroke="#c3264b" stroke-width="1.0"/>
<circle cx="500.50" cy="330.00" r="1.85" fill="#fff" stroke="#c3264b" stroke-width="1.0"/>
<circle cx="493.50" cy="333.00" r="1.85" fill="#fff" stroke="#36538f" stroke-width="1.0"/>
<circle cx="500.50" cy="334.20" r="1.85" fill="#fff" stroke="#36538f" stroke-width="1.0"/>
<circle cx="497.00" cy="337.90" r="1.85" fill="#fff" stroke="#36538f" stroke-width="1.0"/>
<line x1="469.00" y1="229.90" x2="502.00" y2="229.90" stroke="#2e2e2e" stroke-width="1.2"/>
<line x1="469.00" y1="226.40" x2="469.00" y2="233.50" stroke="#2e2e2e" stroke-width="1.2"/>
<line x1="502.00" y1="226.40" x2="502.00" y2="233.50" stroke="#2e2e2e" stroke-width="1.2"/>
<polygon points="485.30,220.15 485.80,221.21 486.96,221.36 486.11,222.16 486.33,223.32 485.30,222.75 484.27,223.32 484.49,222.16 483.64,221.36 484.80,221.21" fill="#1a1a1a"/>
<text transform="translate(407.80,291.60) rotate(-90)" x="0" y="0" font-size="10.7" text-anchor="middle" font-weight="normal" fill="#231f20" textLength="67.50" lengthAdjust="spacingAndGlyphs" stroke="#231f20" stroke-width="0.22">Platelet - CD8 T-cell</text>
<text transform="translate(420.00,291.60) rotate(-90)" x="0" y="0" font-size="10.7" text-anchor="middle" font-weight="normal" fill="#231f20" textLength="40.00" lengthAdjust="spacingAndGlyphs" stroke="#231f20" stroke-width="0.22">aggregates</text>
<text transform="translate(432.20,291.60) rotate(-90)" x="0" y="0" font-size="10.7" text-anchor="middle" font-weight="normal" fill="#231f20" textLength="84.00" lengthAdjust="spacingAndGlyphs" stroke="#231f20" stroke-width="0.22">(% CD41+ CD8 T-cells)</text>
<text transform="translate(475.30,357.50) rotate(-45)" x="0" y="0" font-size="10" text-anchor="end" font-weight="normal" fill="#231f20" textLength="12.50" lengthAdjust="spacingAndGlyphs" stroke="#231f20" stroke-width="0.22">HD</text>
<text transform="translate(499.80,357.80) rotate(-45)" x="0" y="0" font-size="10" text-anchor="end" font-weight="normal" fill="#231f20" textLength="38.50" lengthAdjust="spacingAndGlyphs" stroke="#231f20" stroke-width="0.22">COVID-19</text>
<rect x="0.00" y="0.00" width="520.00" height="1.00" fill="#000"/>
<rect x="0.00" y="0.00" width="1.00" height="395.00" fill="#000"/>
<rect x="518.80" y="0.00" width="1.20" height="395.00" fill="#000"/>
<rect x="0.00" y="393.50" width="520.00" height="1.50" fill="#000"/>
</svg>
</body></html>
